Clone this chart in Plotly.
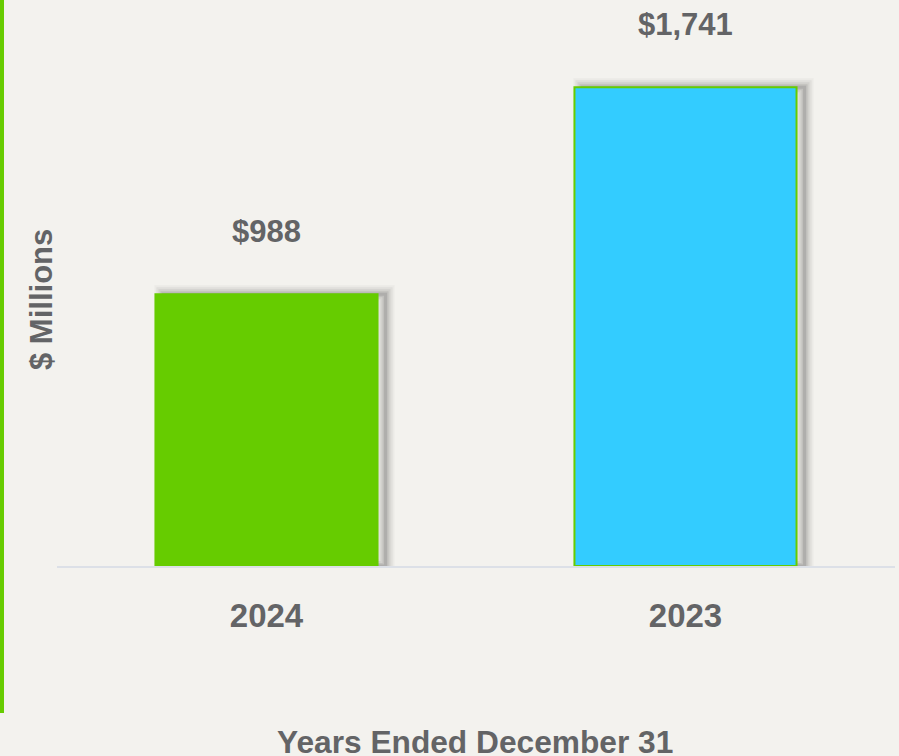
import plotly.graph_objects as go

categories = ["2024", "2023"]
values = [988, 1741]
bar_colors = ["#66CC00", "#33CCFF"]
line_colors = ["#66CC00", "#66CC00"]

x_title = "Years Ended December 31"
y_title = "$ Millions"

TEXT = "#636466"
BG = "#F3F2EE"
FONT = "Liberation Sans, Arial, sans-serif"

W, H = 899, 756
ml, mr, mt, mb = 57, 4, 16, 190
plot_w = W - ml - mr
plot_h = H - mt - mb
px_per_cat = plot_w / 2.0
bw = 0.53

fig = go.Figure()

# soft drop shadow (layers of translucent outlines, shifted right)
dx = 8 / px_per_cat
for L, a in [(18, 0.04), (14, 0.06), (10, 0.08), (6, 0.10), (3, 0.12)]:
    fig.add_trace(go.Bar(
        x=categories, y=values, width=bw, offset=-bw / 2 + dx,
        marker=dict(color="rgba(0,0,0,0)", line=dict(color=f"rgba(50,50,50,{a})", width=L)),
        hoverinfo="skip", showlegend=False,
    ))

fig.add_trace(go.Bar(
    x=categories, y=values, width=bw, offset=-bw / 2,
    marker=dict(color=bar_colors, line=dict(color=line_colors, width=2)),
    showlegend=False,
))

for i, v in enumerate(values):
    fig.add_annotation(x=i, y=v, text=f"${v:,}", showarrow=False,
                       xanchor="center", yanchor="middle", yshift=63,
                       font=dict(family=FONT, size=31, color=TEXT, weight="bold"))

fig.add_annotation(xref="paper", yref="paper", x=(41 - ml) / plot_w, y=(566 - 300) / plot_h,
                   text=y_title, textangle=-90, showarrow=False,
                   xanchor="center", yanchor="middle",
                   font=dict(family=FONT, size=31, color=TEXT, weight="bold"))
fig.add_annotation(xref="paper", yref="paper", x=(475 - ml) / plot_w, y=(566 - 742) / plot_h,
                   text=x_title, showarrow=False, xanchor="center", yanchor="middle",
                   font=dict(family=FONT, size=31.7, color=TEXT, weight="bold"))

# green accent line at left edge
fig.add_shape(type="rect", xref="paper", yref="paper",
              x0=(0 - ml) / plot_w, x1=(4 - ml) / plot_w,
              y0=(566 - 713) / plot_h, y1=(566 - 0) / plot_h,
              fillcolor="#66CC00", line=dict(width=0), layer="above")

fig.update_layout(
    width=W, height=H, barmode="overlay",
    margin=dict(l=ml, r=mr, t=mt, b=mb),
    paper_bgcolor=BG, plot_bgcolor=BG,
    xaxis=dict(type="category", range=[-0.5, 1.5], showline=True, linecolor="#DCE0E7", linewidth=2,
               showgrid=False, zeroline=False, ticks="outside", ticklen=19, tickcolor="rgba(0,0,0,0)",
               tickfont=dict(family=FONT, size=33, color=TEXT, weight="bold")),
    yaxis=dict(range=[0, 2000], showgrid=False, zeroline=False, showticklabels=False, showline=False),
)

fig.write_html("out.html", config={"displayModeBar": False},
               post_script="document.body.style.margin='0';document.body.style.overflow='hidden';")
